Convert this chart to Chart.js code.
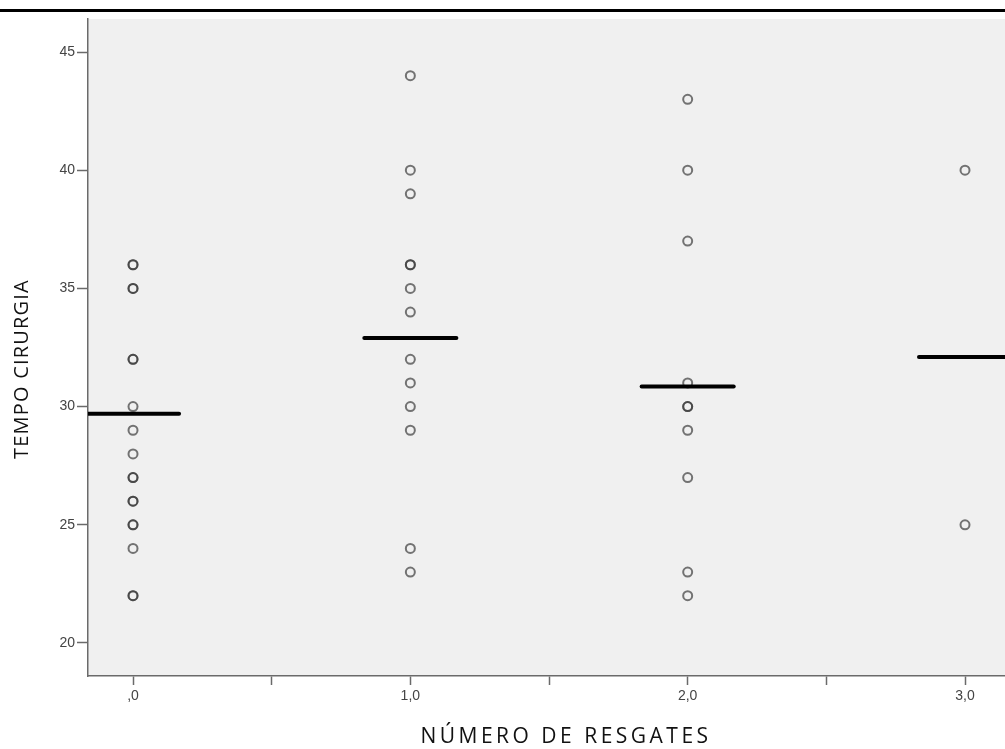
<!DOCTYPE html>
<html>
<head>
<meta charset="utf-8">
<script src="https://cdn.jsdelivr.net/npm/chart.js@4/dist/chart.umd.min.js"></script>
<style>
  html, body { margin: 0; padding: 0; background: #ffffff; }
  canvas { display: block; }
</style>
</head>
<body>
<canvas id="c" width="1005" height="749"></canvas>
<script>
// ---- data ----
const categories = [0, 1, 2, 3];
const xTickLabels = [',0', '1,0', '2,0', '3,0'];
const yTickValues = [20, 25, 30, 35, 40, 45];
const group0 = [36, 36, 35, 35, 32, 32, 30, 29, 28, 27, 27, 26, 26, 25, 25, 24, 22, 22];
const group1 = [44, 40, 39, 36, 36, 35, 34, 32, 31, 30, 29, 24, 23];
const group2 = [43, 40, 37, 31, 30, 30, 29, 27, 23, 22];
const group3 = [40, 25];
const groupMeans = [29.7, 32.9, 30.85, 32.1];
const xTitle = 'NÚMERO DE RESGATES';
const yTitle = 'TEMPO CIRURGIA';

const groups = [group0, group1, group2, group3];
const meanHalfWidth = 0.166;

const pointDatasets = groups.map((vals, i) => ({
  type: 'scatter',
  label: 'Grupo ' + xTickLabels[i],
  data: vals.map(v => ({ x: categories[i], y: v })),
  pointStyle: 'circle',
  pointRadius: 4.5,
  pointHoverRadius: 4.5,
  borderWidth: 2,
  borderColor: 'rgba(55,55,55,0.68)',
  backgroundColor: 'rgba(0,0,0,0)',
  showLine: false,
  order: 2
}));

const meanDatasets = groupMeans.map((m, i) => ({
  type: 'line',
  label: 'Média ' + xTickLabels[i],
  data: [{ x: categories[i] - meanHalfWidth, y: m }, { x: categories[i] + meanHalfWidth, y: m }],
  borderColor: '#000000',
  borderWidth: 4,
  borderCapStyle: 'round',
  pointRadius: 0,
  fill: false,
  order: 1
}));

const decor = {
  id: 'decor',
  beforeDraw(chart) {
    const { ctx, chartArea } = chart;
    ctx.save();
    ctx.fillStyle = '#ffffff';
    ctx.fillRect(0, 0, chart.width, chart.height);
    ctx.fillStyle = '#000000';
    ctx.fillRect(0, 9, chart.width, 3);
    ctx.fillStyle = '#f0f0f0';
    ctx.fillRect(chartArea.left, chartArea.top, chartArea.right - chartArea.left, chartArea.bottom - chartArea.top);
    ctx.restore();
  },
  afterDraw(chart) {
    const { ctx } = chart;
    ctx.save();
    ctx.fillStyle = '#111111';
    ctx.textAlign = 'center';
    ctx.textBaseline = 'middle';
    // x-axis title
    ctx.font = '21px "Open Sans"';
    try { ctx.letterSpacing = '3.5px'; } catch (e) {}
    ctx.fillText(xTitle, 566, 737);
    // y-axis title
    ctx.font = '20px "Open Sans"';
    try { ctx.letterSpacing = '1.2px'; } catch (e) {}
    ctx.translate(22, 369);
    ctx.rotate(-Math.PI / 2);
    ctx.fillText(yTitle, 0, 0);
    ctx.restore();
  }
};

new Chart(document.getElementById('c'), {
  data: { datasets: [...meanDatasets, ...pointDatasets] },
  options: {
    responsive: false,
    animation: false,
    layout: { autoPadding: false, padding: { top: 19, left: 0, right: 0, bottom: 0 } },
    plugins: { legend: { display: false }, tooltip: { enabled: false } },
    scales: {
      x: {
        type: 'linear',
        position: 'bottom',
        min: -0.1623,
        max: 3.1442,
        afterFit(s) { s.height = 73; s.paddingLeft = 0; s.paddingRight = 0; },
        border: { display: true, color: '#6a6a6a', width: 1.5 },
        grid: { display: true, drawOnChartArea: false, drawTicks: true, tickLength: 9, tickColor: '#6a6a6a', tickWidth: 1.5 },
        ticks: {
          stepSize: 0.5,
          includeBounds: false,
          autoSkip: false,
          maxRotation: 0,
          padding: 3,
          color: '#444444',
          font: { family: '"Liberation Sans"', size: 14 },
          callback: (v) => Number.isInteger(v) ? xTickLabels[categories.indexOf(v)] : ''
        },
        title: { display: false }
      },
      y: {
        type: 'linear',
        position: 'left',
        min: 18.604,
        max: 46.396,
        afterFit(s) { s.width = 88; s.paddingTop = 0; s.paddingBottom = 0; },
        afterBuildTicks(s) { s.ticks = yTickValues.map(v => ({ value: v })); },
        border: { display: true, color: '#6a6a6a', width: 1.5 },
        grid: { display: true, drawOnChartArea: false, drawTicks: true, tickLength: 11, tickColor: '#6a6a6a', tickWidth: 1.5 },
        ticks: {
          stepSize: 5,
          includeBounds: false,
          padding: 2,
          color: '#444444',
          font: { family: '"Liberation Sans"', size: 14 }
        },
        title: { display: false }
      }
    }
  },
  plugins: [decor]
});
</script>
</body>
</html>
